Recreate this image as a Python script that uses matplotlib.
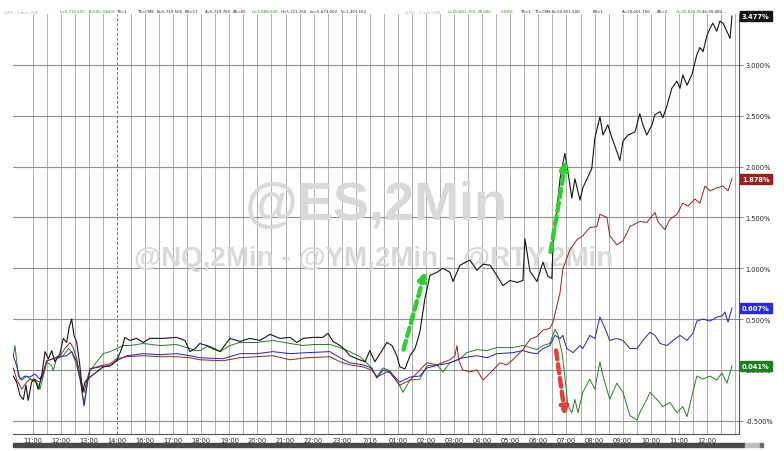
import matplotlib
matplotlib.use("Agg")
import matplotlib.pyplot as plt
import matplotlib.transforms as mtransforms
from matplotlib.patches import Rectangle
import numpy as np

# hours on the compressed trading axis (0 = 11:00, 12 = 7/16 00:00), values in %
rty_h = [-0.69, -0.57, -0.45, -0.33, -0.24, -0.16, -0.04, 0.08, 0.20, 0.32, 0.44, 0.56, 0.68, 0.79,
         0.97, 1.09, 1.21, 1.30, 1.39, 1.47, 1.57, 1.68, 1.78, 1.86, 2.04, 2.28, 2.51, 2.75, 2.99,
         3.17, 3.28, 3.46, 3.70, 3.94, 4.17, 4.65, 5.12, 5.42, 5.60, 5.78, 5.95, 6.31, 6.67, 7.02,
         7.38, 7.73, 8.09, 8.45, 8.80, 9.16, 9.40, 9.62, 9.98, 10.33, 10.51, 10.69, 10.94, 11.11,
         11.29, 11.54, 11.83, 12.00, 12.18, 12.36, 12.61, 12.79, 12.96, 13.07, 13.25, 13.43, 13.61,
         13.78, 13.96, 14.14, 14.39, 14.60, 14.85, 14.96, 15.21, 15.56, 15.81, 16.03, 16.28, 16.45,
         16.74, 16.99, 17.24, 17.45, 17.52, 17.70, 17.95, 18.16, 18.34, 18.48, 18.52, 18.77, 18.94,
         19.05, 19.19, 19.30, 19.48, 19.58, 19.73, 19.90, 20.01, 20.19, 20.30, 20.47, 20.62, 20.79,
         20.90, 21.01, 21.19, 21.44, 21.61, 21.72, 21.86, 22.04, 22.15, 22.33, 22.43, 22.58, 22.75,
         22.93, 23.04, 23.14, 23.29, 23.46, 23.64, 23.75, 23.86, 24.00, 24.11, 24.21, 24.35, 24.46,
         24.57, 24.71, 24.82, 24.89]
rty_v = [-0.06, -0.12, -0.25, -0.29, -0.15, -0.30, -0.12, -0.09, -0.19, -0.06, 0.18, 0.11, 0.19, 0.08,
         0.16, 0.31, 0.27, 0.42, 0.50, 0.34, 0.27, 0.04, -0.22, -0.12, -0.07, -0.02, 0.03, 0.04, 0.09,
         0.21, 0.32, 0.29, 0.31, 0.27, 0.31, 0.31, 0.32, 0.29, 0.18, 0.21, 0.26, 0.23, 0.18, 0.31,
         0.28, 0.31, 0.29, 0.35, 0.31, 0.32, 0.27, 0.31, 0.32, 0.32, 0.36, 0.28, 0.24, 0.20,
         0.14, 0.11, 0.08, 0.19, 0.08, 0.16, 0.27, 0.24, 0.14, 0.03, 0.01, 0.14, 0.21,
         0.37, 0.70, 0.93, 0.96, 1.00, 0.96, 0.87, 1.03, 1.08, 0.98, 1.04, 1.03, 0.96,
         0.83, 0.88, 0.86, 0.88, 1.29, 0.97, 0.87, 1.06, 0.92, 0.90, 1.22, 1.88, 2.13,
         1.95, 1.69, 1.88, 1.67, 1.79, 1.88, 1.98, 2.28, 2.49, 2.31, 2.41, 2.28, 2.15,
         2.06, 2.25, 2.31, 2.34, 2.52, 2.41, 2.31, 2.41, 2.51, 2.54, 2.48, 2.60, 2.77,
         2.84, 2.77, 2.90, 2.80, 2.90, 3.10, 3.17, 3.13, 3.29, 3.36, 3.41, 3.33, 3.43,
         3.41, 3.33, 3.26, 3.48]

ym_h = [-0.69, -0.57, -0.39, -0.21, -0.10, 0.08, 0.26, 0.38, 0.50, 0.73, 0.97, 1.15, 1.33, 1.44,
        1.57, 1.71, 1.83, 1.94, 2.04, 2.40, 2.75, 2.99, 3.35, 3.94, 4.53, 5.12, 5.60, 5.95, 6.77,
        7.38, 7.98, 8.55, 9.16, 9.76, 10.58, 10.94, 11.29, 11.75, 12.07, 12.25, 12.61, 12.72, 13.07,
        13.43, 13.68, 14.03, 14.39, 14.85, 15.03, 15.10, 15.17, 15.31, 15.56, 15.81, 16.03, 16.28,
        16.63, 16.88, 17.09, 17.45, 17.70, 17.95, 18.16, 18.41, 18.52, 18.66, 18.77, 18.87, 19.12,
        19.37, 19.58, 19.83, 20.08, 20.19, 20.44, 20.54, 20.79, 21.01, 21.26, 21.61, 21.86, 22.15,
        22.25, 22.50, 22.68, 22.93, 23.14, 23.32, 23.57, 23.75, 23.93, 24.11, 24.35, 24.57, 24.75,
        24.89]
ym_v = [0.02, -0.09, -0.19, -0.12, -0.09, -0.10, -0.12, -0.04, 0.09, 0.11, 0.14, 0.21, 0.27, 0.22,
        0.11, -0.09, -0.22, -0.09, 0.01, 0.04, 0.06, 0.11, 0.13, 0.14, 0.13, 0.13, 0.12, 0.10, 0.09,
        0.12, 0.13, 0.14, 0.10, 0.12, 0.13, 0.08, 0.05, 0.03, 0.00, -0.07, -0.02, -0.03, -0.15,
        -0.10, -0.03, 0.07, 0.05, 0.10, 0.14, 0.24, 0.09, 0.00, -0.02, 0.00, -0.10, -0.03,
        0.07, 0.05, 0.10, 0.20, 0.30, 0.33, 0.39, 0.41, 0.47, 0.63, 0.76, 0.99, 1.18,
        1.28, 1.32, 1.40, 1.41, 1.53, 1.50, 1.32, 1.23, 1.27, 1.41, 1.46, 1.45, 1.55,
        1.46, 1.38, 1.48, 1.53, 1.64, 1.61, 1.68, 1.64, 1.81, 1.76, 1.79, 1.81, 1.76,
        1.88]

es_h = [-0.69, -0.57, -0.45, -0.27, -0.10, 0.08, 0.26, 0.38, 0.50, 0.73, 0.97, 1.21, 1.39, 1.57,
        1.71, 1.83, 1.94, 2.04, 2.40, 2.75, 2.99, 3.35, 3.94, 4.53, 5.12, 5.60, 5.95, 6.77, 7.38,
        7.98, 8.55, 9.16, 9.76, 10.58, 10.94, 11.29, 11.75, 12.07, 12.25, 12.47, 12.72, 13.07, 13.43,
        13.78, 14.03, 14.49, 14.85, 15.31, 15.81, 16.17, 16.52, 17.09, 17.45, 17.70, 17.95, 18.16,
        18.41, 18.59, 18.77, 18.87, 19.01, 19.23, 19.48, 19.58, 19.83, 20.01, 20.19, 20.37, 20.54,
        20.79, 21.01, 21.26, 21.51, 21.72, 21.97, 22.15, 22.33, 22.58, 22.79, 23.04, 23.29, 23.50,
        23.64, 23.86, 24.11, 24.35, 24.53, 24.64, 24.75, 24.89]
es_v = [0.14, 0.04, -0.09, -0.06, -0.07, -0.04, -0.09, -0.02, 0.09, 0.11, 0.13, 0.14, 0.18, 0.08,
        -0.12, -0.35, -0.15, 0.01, 0.03, 0.04, 0.09, 0.14, 0.16, 0.15, 0.16, 0.14, 0.12, 0.11, 0.16,
        0.16, 0.18, 0.16, 0.17, 0.18, 0.12, 0.07, 0.05, 0.02, -0.08, 0.00, -0.02, -0.12, -0.07,
        -0.06, 0.02, 0.05, 0.07, 0.12, 0.14, 0.12, 0.16, 0.17, 0.19, 0.17, 0.16, 0.21,
        0.24, 0.34, 0.31, 0.34, 0.21, 0.17, 0.24, 0.21, 0.34, 0.31, 0.52, 0.41, 0.29,
        0.31, 0.29, 0.21, 0.21, 0.29, 0.37, 0.34, 0.26, 0.24, 0.29, 0.34, 0.29, 0.36,
        0.48, 0.50, 0.48, 0.52, 0.53, 0.57, 0.47, 0.61]

nq_h = [-0.69, -0.63, -0.51, -0.39, -0.21, -0.04, 0.14, 0.26, 0.38, 0.50, 0.68, 0.73, 0.85, 1.09,
        1.27, 1.39, 1.57, 1.71, 1.83, 1.94, 2.04, 2.28, 2.51, 2.75, 2.99, 3.22, 3.46, 3.94, 4.53,
        5.12, 5.60, 5.78, 5.95, 6.20, 6.67, 7.02, 7.38, 7.98, 8.55, 9.16, 9.62, 9.98, 10.58, 10.94,
        11.29, 11.65, 12.00, 12.25, 12.47, 12.72, 13.07, 13.18, 13.43, 13.78, 14.03, 14.39, 14.60,
        14.85, 15.21, 15.45, 15.81, 16.17, 16.52, 17.09, 17.45, 17.95, 18.16, 18.41, 18.59, 18.69,
        18.84, 18.94, 19.05, 19.19, 19.30, 19.41, 19.58, 19.83, 20.01, 20.19, 20.30, 20.54, 20.79,
        21.01, 21.26, 21.51, 21.61, 21.86, 21.97, 22.22, 22.43, 22.68, 22.93, 23.14, 23.29, 23.46,
        23.64, 23.86, 24.11, 24.35, 24.53, 24.71, 24.89]
nq_v = [0.13, 0.24, -0.06, -0.10, -0.06, -0.10, -0.12, -0.19, -0.06, 0.08, 0.04, -0.01, 0.11, 0.14,
        0.21, 0.18, 0.04, -0.12, -0.35, -0.12, -0.01, 0.08, 0.16, 0.18, 0.21, 0.24, 0.24, 0.26, 0.24,
        0.25, 0.21, 0.19, 0.19, 0.23, 0.18, 0.24, 0.27, 0.27, 0.29, 0.26, 0.24, 0.25, 0.25, 0.22,
        0.18, 0.13, 0.04, -0.07, 0.02, -0.01, -0.16, -0.22, -0.10, -0.09, 0.04, 0.05, -0.02,
        0.07, 0.11, 0.17, 0.20, 0.19, 0.22, 0.22, 0.24, 0.20, 0.24, 0.26, 0.40, 0.35,
        0.17, -0.06, -0.35, -0.42, -0.29, -0.42, -0.22, -0.09, -0.19, 0.08, -0.06, -0.29, -0.13,
        -0.22, -0.45, -0.49, -0.42, -0.29, -0.22, -0.29, -0.36, -0.32, -0.42, -0.36, -0.46, -0.26,
        -0.06, -0.09, -0.06, -0.10, -0.03, -0.13, 0.04]

tick_hours = list(range(25))
tick_labels = ["11:00", "12:00", "13:00", "14:00", "16:00", "17:00", "18:00", "19:00", "20:00",
               "21:00", "22:00", "23:00", "7/16", "01:00", "02:00", "03:00", "04:00", "05:00",
               "06:00", "07:00", "08:00", "09:00", "10:00", "11:00", "12:00"]
y_ticks = [-0.5, 0.0, 0.5, 1.0, 1.5, 2.0, 2.5, 3.0]

last_labels = ["3.477%", "1.878%", "0.607%", "0.041%"]
last_values = [3.477, 1.878, 0.607, 0.041]

c_rty, c_ym, c_es, c_nq = "#151515", "#8b2525", "#2323a5", "#2b7a2b"

fig = plt.figure(figsize=(7.84, 4.52), dpi=100)
ax = fig.add_axes([13 / 784, 1 - 435 / 452, 726 / 784, 420 / 452])
ax.set_xlim(-0.70, 25.14)
ax.set_ylim(-0.63, 3.50)

# grid
for h in np.arange(0, 25.01, 0.5):
    if h == 3.0:
        ax.axvline(h, color="#707070", lw=0.7, ls=(0, (3, 2)), zorder=0)
    else:
        ax.axvline(h, color="#a2a2a2", lw=0.6, zorder=0)
for y in y_ticks:
    ax.axhline(y, color="#909090", lw=0.8, zorder=0)

# watermark
ax.text(0.5, 0.545, "@ES,2Min", transform=ax.transAxes, ha="center", va="center",
        fontsize=39, fontweight="bold", family="Liberation Sans", color="#d9d9d9", zorder=1)
ax.text(0.497, 0.42, "@NQ,2Min - @YM,2Min - @RTY,2Min", transform=ax.transAxes,
        ha="center", va="center", fontsize=20, fontweight="bold", family="Liberation Sans",
        color="#d9d9d9", zorder=1)

ax.plot(nq_h, nq_v, color=c_nq, lw=0.7, zorder=3)
ax.plot(es_h, es_v, color=c_es, lw=0.7, zorder=3)
ax.plot(ym_h, ym_v, color=c_ym, lw=0.7, zorder=3)
ax.plot(rty_h, rty_v, color=c_rty, lw=0.8, zorder=3)

# arrows
def dashed_arrow(start, end, color):
    ax.annotate("", xy=end, xytext=start,
                arrowprops=dict(arrowstyle="-|>", color=color, lw=3.2,
                                linestyle=(0, (2.0, 1.1)), mutation_scale=11,
                                shrinkA=0, shrinkB=0), zorder=4)

dashed_arrow((13.20, 0.20), (13.97, 0.97), "#2fcf2f")
dashed_arrow((18.43, 1.16), (18.98, 2.06), "#2fcf2f")
dashed_arrow((18.63, 0.19), (18.95, -0.45), "#e5413b")

# axes styling
for s in ["top", "left"]:
    ax.spines[s].set_visible(False)
for s in ["right", "bottom"]:
    ax.spines[s].set_color("#555555")
    ax.spines[s].set_linewidth(0.8)

ax.yaxis.tick_right()
ax.set_yticks(y_ticks)
ax.set_yticklabels([f"{v:.3f}%" for v in y_ticks])
ax.tick_params(axis="y", length=3, color="#888888", labelsize=4.8, pad=1.5, labelcolor="#222222")
ax.set_xticks(tick_hours)
ax.set_xticklabels(tick_labels)
ax.tick_params(axis="x", length=0, labelsize=4.8, pad=2.5, labelcolor="#222222")

# last value tags
trans = mtransforms.blended_transform_factory(ax.transAxes, ax.transData)
for lab, val, col in zip(last_labels, last_values, [c_rty, "#9a2020", "#2a2ad0", "#1f7f1f"]):
    ax.text(1.004, val, lab, transform=trans, ha="left", va="center", fontsize=4.8,
            fontweight="bold", color="white", clip_on=False, zorder=6,
            bbox=dict(boxstyle="square,pad=0.3", fc=col, ec=col))

# header strip
header = [
    (4, "@ES - 2 min CME", "#b5b5b5"), (60, "L=5,719.500", "#2e8b2e"), (88, "36.500", "#2e8b2e"),
    (103, "0.64%", "#2e8b2e"), (116, "TS=1", "#222222"), (137, "TE=CME", "#222222"),
    (157, "B=5,719.500", "#222222"), (185, "BS=57", "#222222"), (205, "A=5,719.750", "#222222"),
    (233, "AS=65", "#222222"), (252, "O=5,688.500", "#2e8b2e"), (281, "H=5,721.250", "#222222"),
    (310, "Lo=5,673.000", "#222222"), (341, "V=1,301,152", "#222222"),
    (405, "@NQ - 2 min CME", "#b5b5b5"), (448, "L=20,601.750", "#2e8b2e"), (478, "58.000", "#2e8b2e"),
    (501, "0.09%", "#2e8b2e"), (520, "TS=1", "#222222"), (534, "TE=CME", "#222222"),
    (552, "B=20,601.500", "#222222"), (593, "BS=1", "#222222"), (622, "A=20,601.750", "#222222"),
    (657, "AS=2", "#222222"), (676, "O=20,628.000", "#2e8b2e"), (703, "H=20,684...", "#222222"),
]
for px, txt, col in header:
    fig.text(px / 784, 1 - 12 / 452, txt, fontsize=2.9, color=col, ha="left", va="center")

# scroll bar at the bottom
fig.patches.append(Rectangle((13 / 784, 1 - 448 / 452), 732 / 784, 4 / 452,
                             transform=fig.transFigure, color="#4a4a4a"))
fig.patches.append(Rectangle((745 / 784, 1 - 448 / 452), 15 / 784, 4 / 452,
                             transform=fig.transFigure, color="#bdbdbd"))
fig.patches.append(Rectangle((760 / 784, 1 - 448 / 452), 3 / 784, 4 / 452,
                             transform=fig.transFigure, color="#6a6a6a"))

fig.savefig("out.png", dpi=100)
